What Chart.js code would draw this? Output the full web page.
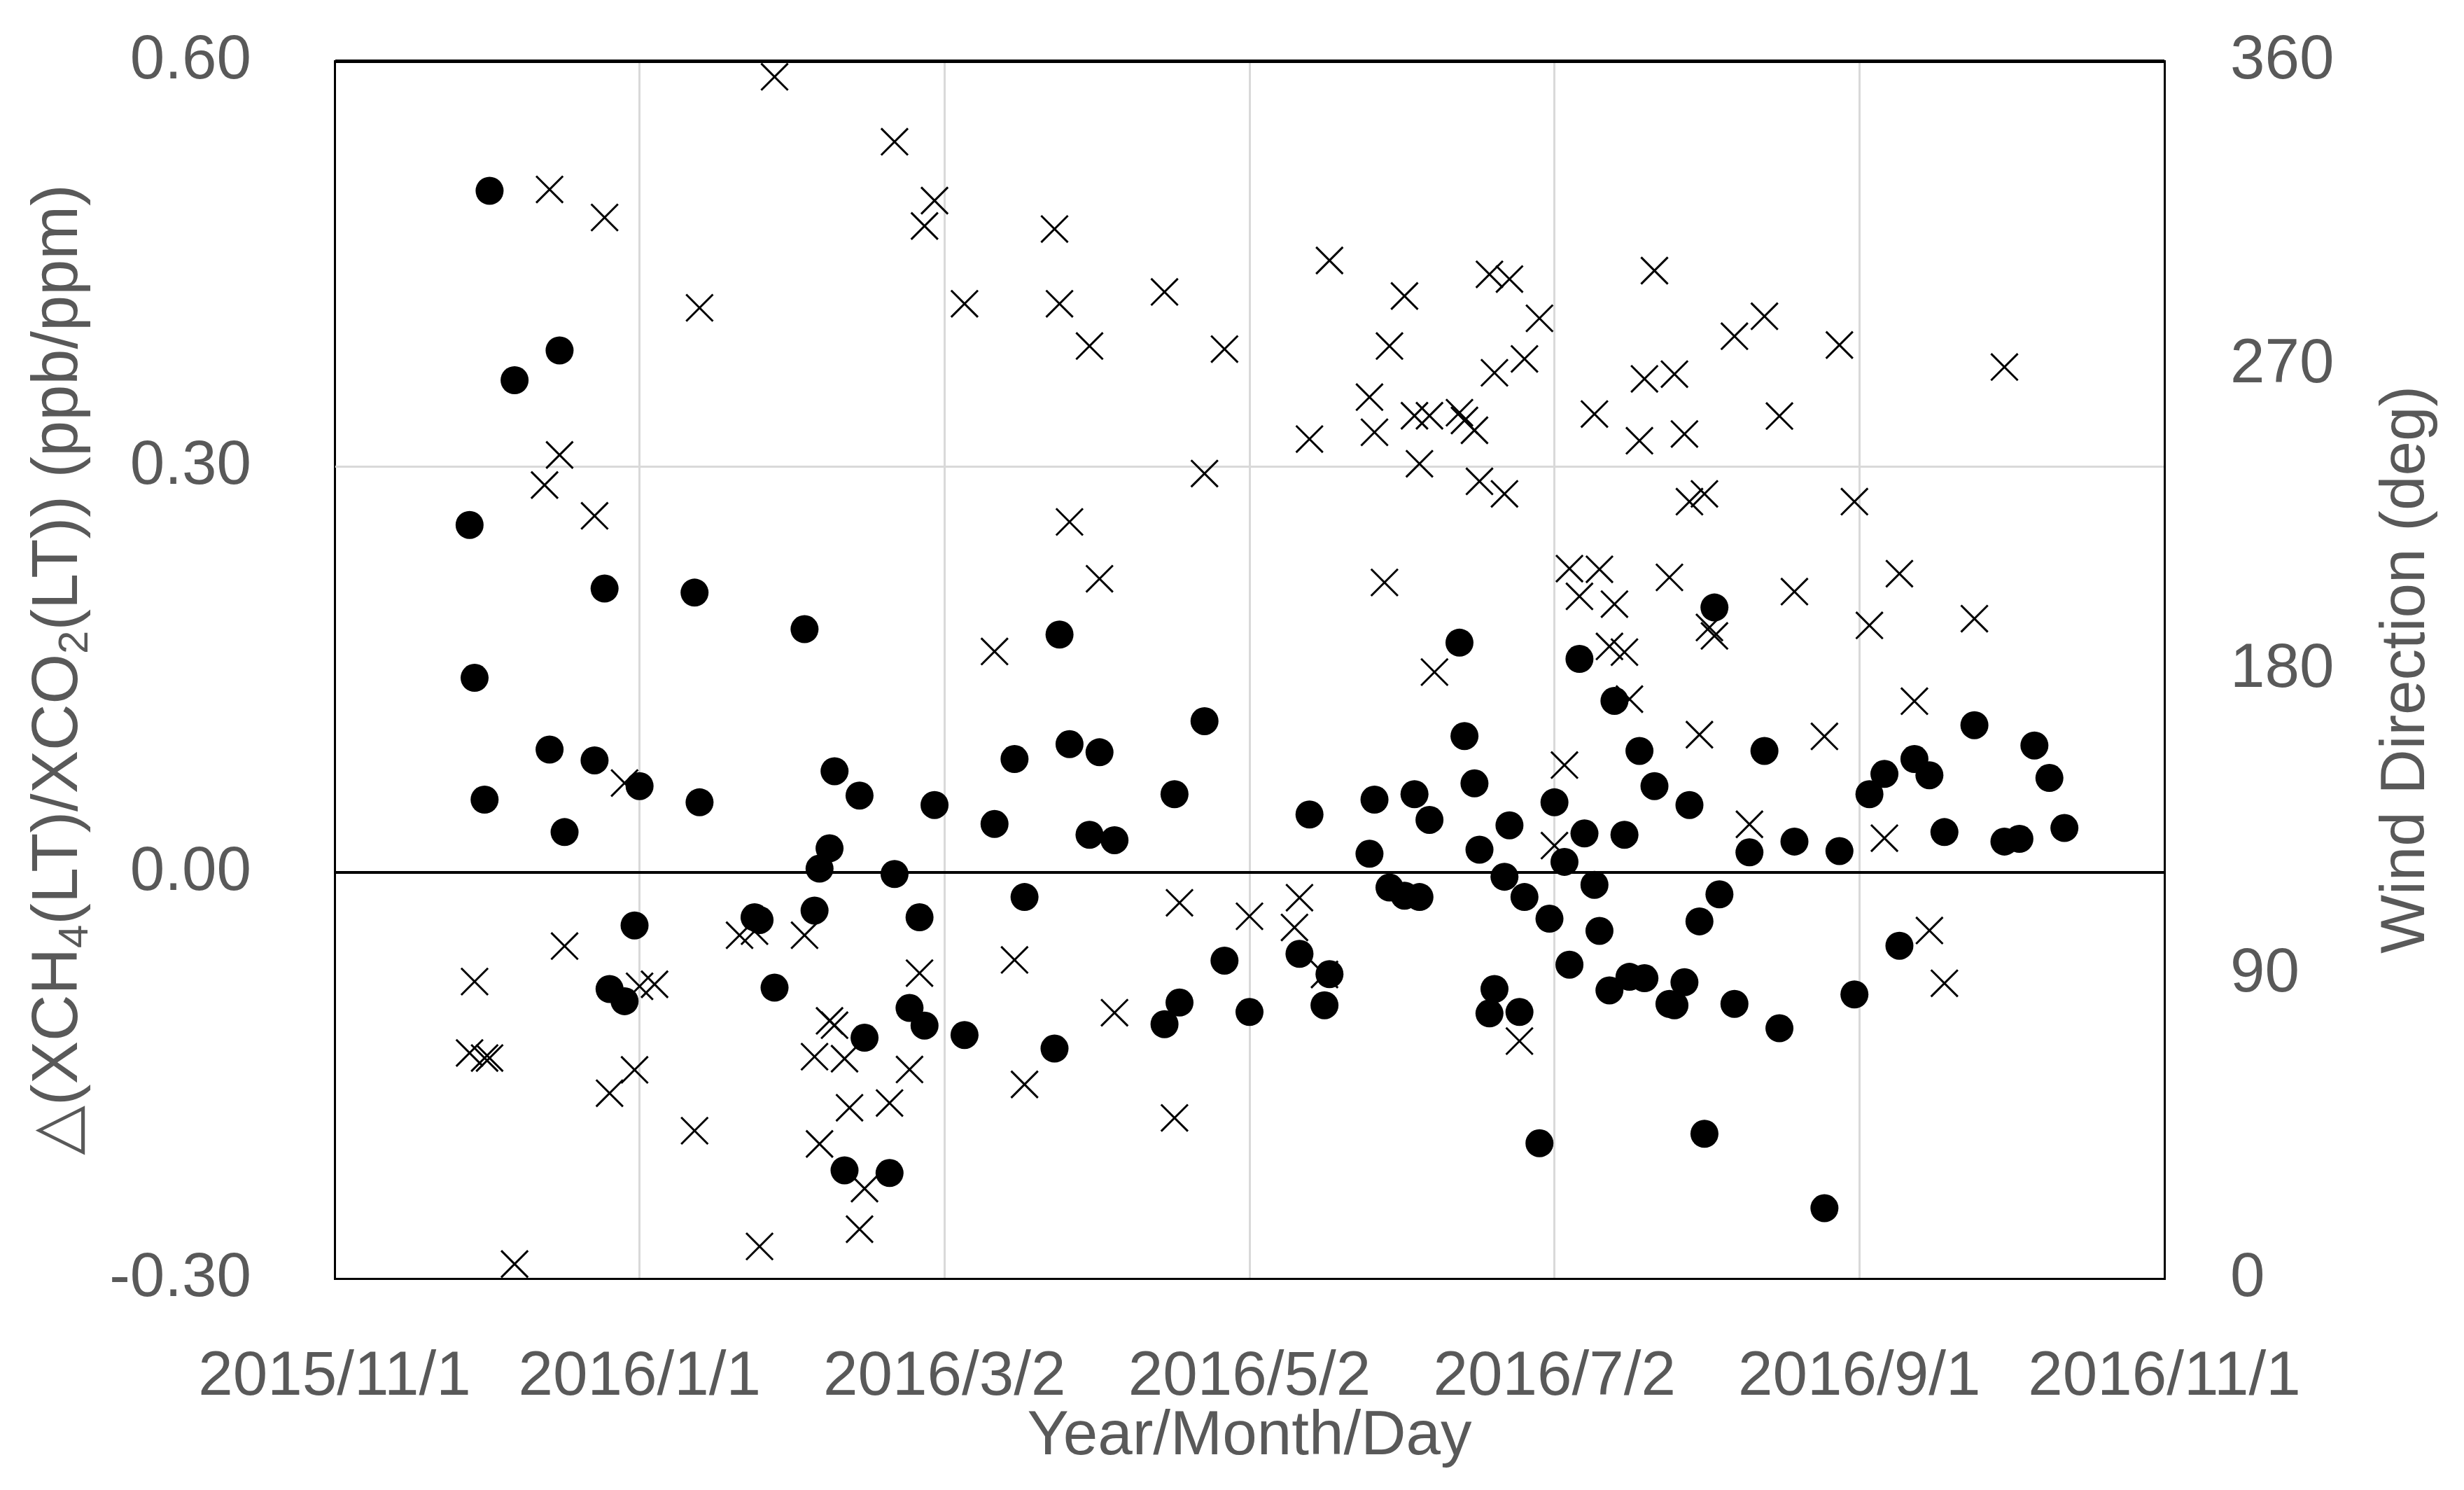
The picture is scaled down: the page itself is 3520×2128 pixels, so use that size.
<!DOCTYPE html>
<html>
<head>
<meta charset="utf-8">
<title>XCH4/XCO2 ratio and wind direction</title>
<script src="https://cdn.jsdelivr.net/npm/chart.js@4.4.0/dist/chart.umd.min.js"></script>
<style>
  html, body { margin: 0; padding: 0; background: #fff; }
  canvas { display: block; }
</style>
</head>
<body>
<canvas id="myChart" width="3520" height="2128"></canvas>
<script>
// x values are days counted from 2015/11/1
var xTickLabels = ["2015/11/1", "2016/1/1", "2016/3/2", "2016/5/2", "2016/7/2", "2016/9/1", "2016/11/1"];

// filled circles, left axis (ppb/ppm)
var ratioDays = [27, 28, 30, 31, 36, 43, 45, 46, 52, 54,
  55, 58, 60, 61, 72, 73, 84, 85, 88, 94,
  96, 97, 99, 100, 102, 105, 106, 111, 112, 115,
  117, 118, 120, 126, 132, 136, 138, 144, 145, 147,
  151, 153, 156, 166, 168, 169, 174, 178, 183, 193,
  195, 198, 199, 207, 208, 211, 214, 216, 217, 219,
  225, 226, 228, 229, 231, 232, 234, 235, 237, 238,
  241, 243, 244, 246, 247, 249, 250, 252, 253, 255,
  256, 258, 259, 261, 262, 264, 267, 268, 270, 271,
  273, 274, 276, 277, 280, 283, 286, 289, 292, 298,
  301, 304, 307, 310, 313, 316, 319, 322, 328, 334,
  337, 340, 343, 346];
var ratioValues = [0.257, 0.144, 0.054, 0.504, 0.364, 0.091, 0.386, 0.030, 0.083, 0.210,
  -0.086, -0.095, -0.039, 0.064, 0.207, 0.052, -0.033, -0.035, -0.085, 0.180,
  -0.028, 0.003, 0.018, 0.075, -0.220, 0.057, -0.122, -0.222, -0.001, -0.100,
  -0.033, -0.113, 0.050, -0.120, 0.036, 0.084, -0.018, -0.130, 0.176, 0.095,
  0.028, 0.089, 0.024, -0.112, 0.058, -0.096, 0.112, -0.065, -0.103, -0.060,
  0.043, -0.098, -0.075, 0.014, 0.054, -0.011, -0.017, 0.058, -0.018, 0.039,
  0.170, 0.101, 0.066, 0.017, -0.104, -0.086, -0.003, 0.035, -0.103, -0.018,
  -0.200, -0.034, 0.052, 0.008, -0.068, 0.158, 0.029, -0.009, -0.043, -0.087,
  0.127, 0.028, -0.077, 0.090, -0.078, 0.064, -0.097, -0.098, -0.081, 0.050,
  -0.036, -0.193, 0.196, -0.016, -0.097, 0.015, 0.090, -0.115, 0.023, -0.248,
  0.016, -0.090, 0.058, 0.073, -0.054, 0.084, 0.072, 0.030, 0.109, 0.023,
  0.025, 0.094, 0.070, 0.033];

// crosses, right axis (deg)
var windDays = [27, 28, 30, 31, 36, 42, 43, 45, 46, 52,
  54, 55, 58, 60, 61, 64, 72, 73, 81, 84,
  85, 88, 94, 96, 97, 99, 100, 102, 103, 105,
  106, 111, 112, 115, 117, 118, 120, 126, 132, 136,
  138, 144, 145, 147, 151, 153, 156, 166, 168, 169,
  174, 178, 183, 192, 193, 195, 198, 199, 207, 208,
  210, 211, 214, 216, 217, 219, 220, 225, 226, 228,
  229, 231, 232, 234, 235, 237, 238, 241, 244, 246,
  247, 249, 252, 253, 255, 256, 258, 259, 261, 262,
  264, 267, 268, 270, 271, 273, 274, 275, 276, 280,
  283, 286, 289, 292, 298, 301, 304, 307, 310, 313,
  316, 319, 322, 328, 334];
var windValues = [66.7, 87.8, 65.2, 65.2, 4.3, 234.6, 322.0, 243.5, 98.3, 225.5,
  313.7, 54.8, 146.5, 61.7, 86.4, 87.0, 43.7, 287.0, 101.5, 102.7,
  9.5, 355.3, 101.5, 65.6, 39.8, 76.2, 74.9, 65.0, 50.5, 14.6,
  26.6, 51.9, 336.1, 61.8, 90.3, 311.2, 318.7, 288.2, 185.4, 94.2,
  57.4, 310.3, 288.2, 223.7, 275.7, 206.9, 78.6, 291.7, 47.5, 111.1,
  238.0, 274.8, 107.1, 103.8, 112.6, 248.2, 89.9, 301.0, 260.6, 250.2,
  205.8, 275.7, 290.5, 255.1, 240.9, 255.1, 179.3, 256.0, 253.7, 250.8,
  235.7, 296.9, 267.8, 232.0, 295.5, 70.2, 271.9, 283.9, 128.0, 151.8,
  209.9, 201.7, 255.6, 209.7, 186.9, 199.4, 185.2, 171.3, 247.7, 266.0,
  298.0, 207.3, 267.4, 249.7, 229.7, 160.8, 232.0, 192.5, 190.0, 278.6,
  134.3, 284.5, 255.0, 203.1, 160.3, 276.0, 229.7, 193.1, 130.2, 208.4,
  170.7, 102.9, 87.3, 195.1, 269.5];

var leftTitle = [
  { text: "\u25B3(XCH" },
  { text: "4", sub: true },
  { text: "(LT)/XCO" },
  { text: "2", sub: true },
  { text: "(LT)) (ppb/ppm)" }
];
var rightTitle = [{ text: "Wind Direction (deg)" }];

var textColor = "#595959";
var fontFamily = "'Liberation Sans', 'DejaVu Sans', Arial, sans-serif";
var fontSize = 89;

var ctx = document.getElementById("myChart").getContext("2d");

function toPoints(days, values) {
  return days.map((d, i) => ({ x: d, y: values[i] }));
}

// rotated title reading bottom to top, parts marked sub are subscripts
function drawVerticalTitle(c, parts, cx, cy, size) {
  let subSize = Math.round(size * 0.65);
  c.save();
  c.translate(cx, cy);
  c.rotate(-Math.PI / 2);
  c.fillStyle = textColor;
  c.textAlign = "left";
  c.textBaseline = "alphabetic";
  let total = 0;
  parts.forEach(p => {
    c.font = (p.sub ? subSize : size) + "px " + fontFamily;
    p.w = c.measureText(p.text).width;
    total += p.w;
  });
  let x = -total / 2;
  let base = size * 0.35;
  parts.forEach(p => {
    c.font = (p.sub ? subSize : size) + "px " + fontFamily;
    c.fillText(p.text, x, p.sub ? base + 15 : base);
    x += p.w;
  });
  c.restore();
}

var sideTitles = {
  id: "sideTitles",
  afterDraw(chart) {
    let mid = (chart.chartArea.top + chart.chartArea.bottom) / 2;
    drawVerticalTitle(chart.ctx, leftTitle, 78, mid, 92);
    drawVerticalTitle(chart.ctx, rightTitle, 3432, mid, fontSize);
  }
};

function near(a, b) {
  return Math.abs(a - b) < 1e-6;
}

var tickFont = { family: fontFamily, size: fontSize };
var clear = "rgba(0,0,0,0)";

let myChart = new Chart(ctx, {
  type: "scatter",
  data: {
    datasets: [
      {
        label: "ratio",
        data: toPoints(ratioDays, ratioValues),
        yAxisID: "y",
        pointStyle: "circle",
        pointRadius: 20,
        backgroundColor: "#000",
        borderColor: "#000",
        borderWidth: 0,
        clip: false,
        order: 0
      },
      {
        label: "wind",
        data: toPoints(windDays, windValues),
        yAxisID: "y2",
        pointStyle: "crossRot",
        pointRadius: 27,
        backgroundColor: "#000",
        borderColor: "#000",
        borderWidth: 3,
        clip: false,
        order: 1
      }
    ]
  },
  options: {
    responsive: false,
    devicePixelRatio: 1,
    animation: false,
    layout: { padding: { top: 87, left: 0, right: 0, bottom: 0 } },
    plugins: {
      legend: { display: false },
      tooltip: { enabled: false }
    },
    scales: {
      x: {
        type: "linear",
        position: "bottom",
        min: 0,
        max: 366,
        afterFit: s => { s.height = 302; },
        ticks: {
          stepSize: 61,
          autoSkip: false,
          maxRotation: 0,
          padding: 0,
          color: textColor,
          font: tickFont,
          callback: (v, i) => xTickLabels[i]
        },
        // invisible tick marks keep the labels away from the axis
        grid: {
          drawTicks: true,
          tickLength: 88,
          tickColor: clear,
          color: c => (c.tick && (near(c.tick.value, 0) || near(c.tick.value, 366))) ? "#000" : "#d9d9d9",
          lineWidth: 3
        },
        border: { display: true, color: "#000", width: 3 },
        title: {
          display: true,
          text: "Year/Month/Day",
          color: textColor,
          font: tickFont,
          padding: { top: 0, bottom: 22 }
        }
      },
      y: {
        position: "left",
        min: -0.3,
        max: 0.6,
        afterFit: s => { s.width = 478; },
        ticks: {
          stepSize: 0.3,
          padding: 0,
          color: textColor,
          font: tickFont,
          callback: v => v.toFixed(2)
        },
        grid: {
          drawTicks: true,
          tickLength: 119,
          tickColor: clear,
          color: c => {
            let v = c.tick ? c.tick.value : 1;
            return (near(v, 0) || near(v, 0.6) || near(v, -0.3)) ? "#000" : "#d9d9d9";
          },
          lineWidth: c => {
            let v = c.tick ? c.tick.value : 1;
            if (near(v, 0.6)) return 5;
            if (near(v, 0)) return 4;
            return 3;
          }
        },
        border: { display: true, color: "#000", width: 2 }
      },
      y2: {
        position: "right",
        min: 0,
        max: 360,
        afterFit: s => { s.width = 428; },
        ticks: {
          stepSize: 90,
          padding: 0,
          color: textColor,
          font: tickFont
        },
        grid: { drawOnChartArea: false, drawTicks: true, tickLength: 94, tickColor: clear },
        border: { display: true, color: "#000", width: 3 }
      }
    }
  },
  plugins: [sideTitles]
});
</script>
</body>
</html>
